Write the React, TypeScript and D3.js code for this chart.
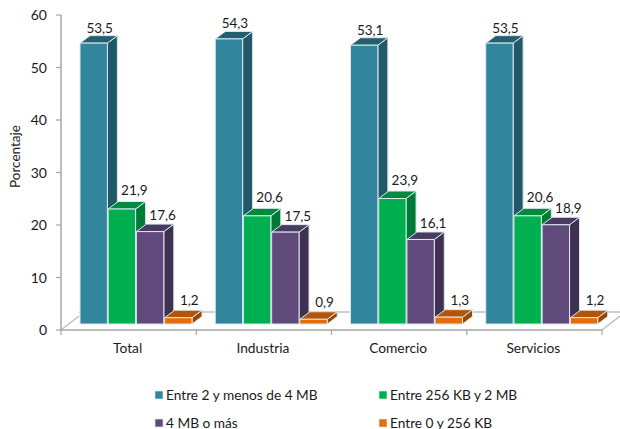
import React from "react";
import * as d3 from "d3";

const categories = ["Total", "Industria", "Comercio", "Servicios"];
const seriesNames = ["Entre 2 y menos de 4 MB", "Entre 256 KB y 2 MB", "4 MB o más", "Entre 0 y 256 KB"];
const s2a4 = [53.5, 54.3, 53.1, 53.5];
const s256a2 = [21.9, 20.6, 23.9, 20.6];
const s4mas = [17.6, 17.5, 16.1, 18.9];
const s0a256 = [1.2, 0.9, 1.3, 1.2];
const seriesValues = [s2a4, s256a2, s4mas, s0a256];
const yTicks = [0, 10, 20, 30, 40, 50, 60];

const fronts = ["#31859c", "#00b050", "#604a7b", "#e46c0a"];
const sides = ["#215968", "#007a37", "#403152", "#974806"];
const tops = ["#235f6f", "#008a3e", "#4a3960", "#b35508"];

const labelDx = [6, 12.5, 12.5, 11];
const labelDy = [3, 6.5, 4, 5];

const font = "Lato, Carlito, 'Open Sans', sans-serif";
const axisColor = "#a6a6a6";
const textColor = "#1a1a1a";

const x0 = d3.scaleBand<string>().domain(categories).range([61, 602]);
const y = d3.scaleLinear().domain([0, 60]).range([330, 15]);
const xs = d3.scaleBand<number>().domain([0, 1, 2, 3]).range([19, 131]).paddingInner(0.03);

const dx = 10;
const dy = 7.5;
const baseShift = -6;

const fmt = (v: number) => v.toFixed(1).replace(".", ",");

export default function App() {
  return (
    <svg width={620} height={429} style={{ position: "absolute", left: 0, top: 0, background: "#fff" }} fontFamily={font}>
      {/* floor */}
      <path d={`M61,330 L79,316`} stroke="#bfbfbf" strokeWidth={1.5} fill="none" />
      <path d={`M602,330 L620,316`} stroke="#bfbfbf" strokeWidth={1.5} fill="none" />
      <path d={`M79,312 H620`} stroke="#bfbfbf" strokeWidth={1.5} fill="none" />

      {/* axes */}
      <line x1={61} x2={61} y1={y(60)} y2={y(0)} stroke={axisColor} strokeWidth={1.5} />
      <line x1={60} x2={602} y1={y(0)} y2={y(0)} stroke={axisColor} strokeWidth={1.5} />
      {yTicks.map((t) => (
        <g key={t}>
          <line x1={56} x2={61} y1={y(t)} y2={y(t)} stroke={axisColor} strokeWidth={1.2} />
          <text x={47} y={y(t) + 5} textAnchor="end" fontSize={14} fill={textColor}>{t}</text>
        </g>
      ))}
      {[...categories.map((c) => x0(c)!), 602].map((xv, i) => (
        <line key={i} x1={xv} x2={xv} y1={330} y2={335} stroke={axisColor} strokeWidth={1.2} />
      ))}
      <text transform="translate(20,156.5) rotate(-90)" textAnchor="middle" fontSize={13.5} fill={textColor}>Porcentaje</text>

      {/* bars */}
      {categories.map((c, ci) => (
        <g key={c}>
          {seriesValues.map((vals, si) => {
            const v = vals[ci];
            const left = x0(c)! + xs(si)!;
            const w = xs.bandwidth();
            const top = y(v) + baseShift;
            const bottom = y(0) + baseShift;
            return (
              <g key={si} stroke="#dbe9ee" strokeWidth={1} strokeLinejoin="round">
                <path d={`M${left + w},${top} L${left + w + dx},${top - dy} V${bottom - dy} L${left + w},${bottom} Z`} fill={sides[si]} />
                <path d={`M${left},${top} L${left + dx},${top - dy} H${left + w + dx} L${left + w},${top} Z`} fill={tops[si]} />
                <rect x={left} y={top} width={w} height={bottom - top} fill={fronts[si]} />
              </g>
            );
          })}
          {seriesValues.map((vals, si) => {
            const v = vals[ci];
            const left = x0(c)! + xs(si)!;
            const w = xs.bandwidth();
            return (
              <text key={si} x={left + w / 2 + labelDx[si]} y={y(v) + baseShift - dy - labelDy[si]} textAnchor="middle" fontSize={13.5} fill={textColor}>
                {fmt(v)}
              </text>
            );
          })}
          <text x={x0(c)! + x0.bandwidth() / 2 - 1} y={353} textAnchor="middle" fontSize={13.8} fill={textColor}>{c}</text>
        </g>
      ))}

      {/* legend */}
      {seriesNames.map((n, i) => {
        const lx = i % 2 === 0 ? 155 : 379;
        const ly = i < 2 ? 395 : 423;
        return (
          <g key={n}>
            <rect x={lx} y={ly - 4} width={8} height={8} fill={fronts[i]} stroke="#dbe9ee" strokeWidth={0.7} />
            <text x={lx + 11} y={ly + 4.5} fontSize={13.7} fill={textColor}>{n}</text>
          </g>
        );
      })}
    </svg>
  );
}
